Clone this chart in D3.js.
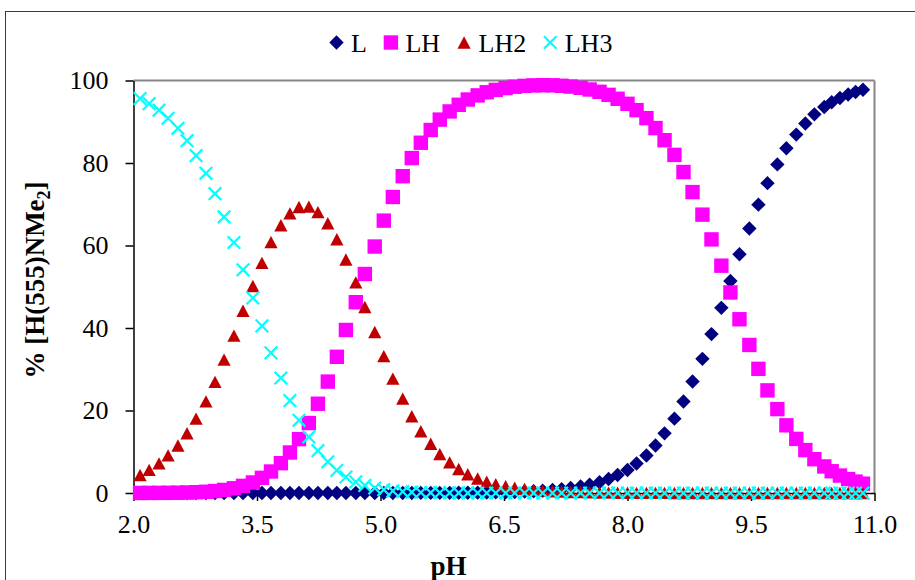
<!DOCTYPE html>
<html>
<head>
<meta charset="utf-8">
<script src="https://cdn.jsdelivr.net/npm/d3@7"></script>
<style>
  html, body { margin: 0; padding: 0; background: #fff; }
  svg { display: block; }
</style>
</head>
<body>
<svg id="chart" width="915" height="580"></svg>
<script>
// ---------- data ----------
const pH = [2.08, 2.19, 2.31, 2.42, 2.54, 2.65, 2.76, 2.88, 2.99, 3.10, 3.22, 3.33, 3.45, 3.56, 3.67, 3.79, 3.90, 4.01, 4.13, 4.24,
  4.36, 4.47, 4.58, 4.70, 4.81, 4.93, 5.04, 5.15, 5.27, 5.38, 5.49, 5.61, 5.72, 5.84, 5.95, 6.06, 6.18, 6.29, 6.40, 6.52,
  6.63, 6.75, 6.86, 6.97, 7.09, 7.20, 7.31, 7.43, 7.54, 7.66, 7.77, 7.88, 8.00, 8.11, 8.23, 8.34, 8.45, 8.57, 8.68, 8.79,
  8.91, 9.02, 9.14, 9.25, 9.36, 9.48, 9.59, 9.70, 9.82, 9.93, 10.05, 10.16, 10.27, 10.39, 10.48, 10.58, 10.68, 10.77, 10.86];

const L = [0, 0, 0, 0, 0, 0, 0, 0, 0, 0, 0, 0, 0, 0, 0, 0, 0, 0, 0, 0,
  0, 0, 0, 0, 0, 0, 0.01, 0.01, 0.01, 0.01, 0.02, 0.02, 0.03, 0.04, 0.05, 0.07, 0.09, 0.11, 0.15, 0.19,
  0.25, 0.33, 0.43, 0.55, 0.72, 0.93, 1.21, 1.57, 2.03, 2.62, 3.39, 4.36, 5.59, 7.14, 9.09, 11.51, 14.46, 18.02, 22.18, 27.04,
  32.52, 38.52, 44.89, 51.38, 57.88, 64.11, 69.90, 75.12, 79.66, 83.59, 86.88, 89.59, 91.80, 93.56, 94.73, 95.77, 96.61, 97.23, 97.74];

const LH = [0.01, 0.02, 0.03, 0.04, 0.07, 0.12, 0.19, 0.30, 0.48, 0.75, 1.15, 1.73, 2.55, 3.68, 5.21, 7.23, 9.82, 13.06, 16.96, 21.64,
  27.01, 33.02, 39.52, 46.25, 53.09, 59.75, 66.03, 71.76, 76.80, 81.20, 84.91, 88.00, 90.52, 92.50, 94.11, 95.39, 96.39, 97.15, 97.73, 98.17,
  98.49, 98.70, 98.82, 98.87, 98.84, 98.72, 98.53, 98.23, 97.82, 97.26, 96.52, 95.57, 94.35, 92.82, 90.88, 88.47, 85.53, 81.97, 77.81, 72.95,
  67.48, 61.48, 55.11, 48.62, 42.12, 35.89, 30.10, 24.88, 20.34, 16.41, 13.12, 10.41, 8.20, 6.44, 5.27, 4.23, 3.39, 2.77, 2.26];

const LH2 = [4.37, 5.61, 7.17, 9.11, 11.52, 14.47, 18.02, 22.20, 26.95, 32.33, 38.14, 44.18, 50.18, 55.80, 60.82, 64.90, 67.78, 69.32, 69.43, 68.10,
  65.41, 61.50, 56.60, 51.05, 45.08, 39.03, 33.17, 27.73, 22.87, 18.60, 14.96, 11.93, 9.43, 7.43, 5.82, 4.53, 3.52, 2.73, 2.12, 1.64,
  1.26, 0.97, 0.75, 0.58, 0.44, 0.34, 0.26, 0.20, 0.15, 0.12, 0.09, 0.07, 0.05, 0.04, 0.03, 0.02, 0.02, 0.01, 0, 0,
  0, 0, 0, 0, 0, 0, 0, 0, 0, 0, 0, 0, 0, 0, 0, 0, 0, 0, 0];

const LH3 = [95.62, 94.38, 92.81, 90.85, 88.41, 85.41, 81.79, 77.50, 72.56, 66.93, 60.72, 54.10, 47.27, 40.52, 33.97, 27.87, 22.39, 17.62, 13.60, 10.26,
  7.58, 5.48, 3.88, 2.70, 1.83, 1.22, 0.80, 0.51, 0.33, 0.20, 0.13, 0.08, 0.05, 0.03, 0.02, 0.01, 0, 0, 0, 0,
  0, 0, 0, 0, 0, 0, 0, 0, 0, 0, 0, 0, 0, 0, 0, 0, 0, 0, 0, 0,
  0, 0, 0, 0, 0, 0, 0, 0, 0, 0, 0, 0, 0, 0, 0, 0, 0, 0, 0];

const seriesNames = ["L", "LH", "LH2", "LH3"];
const xTicks = [2.0, 3.5, 5.0, 6.5, 8.0, 9.5, 11.0];
const yTicks = [0, 20, 40, 60, 80, 100];
const xTitle = "pH";

// ---------- styles ----------
const FONT = "'Liberation Serif', 'Times New Roman', serif";
const colors = { L: "#000080", LH: "#FF00FF", LH2: "#C00000", LH3: "#00FFFF" };
const valuesOf = { L: L, LH: LH, LH2: LH2, LH3: LH3 };

const svg = d3.select("#chart");
svg.append("rect").attr("x", 0).attr("y", 0).attr("width", 915).attr("height", 580).attr("fill", "#fff");

// outer chart border
svg.append("rect").attr("x", 5.5).attr("y", 11.5).attr("width", 960).attr("height", 620)
  .attr("fill", "none").attr("stroke", "#3a3a3a").attr("stroke-width", 1);

const x = d3.scaleLinear().domain([2, 11]).range([133.5, 874.5]);
const y = d3.scaleLinear().domain([0, 100]).range([493, 80.5]);

// top gridline / plot border (gray)
svg.append("line").attr("x1", x(2)).attr("x2", x(11)).attr("y1", y(100)).attr("y2", y(100))
  .attr("stroke", "#868686").attr("stroke-width", 2);
svg.append("line").attr("x1", x(11)).attr("x2", x(11)).attr("y1", y(100)).attr("y2", y(0))
  .attr("stroke", "#868686").attr("stroke-width", 2);

// axes
const xAxis = d3.axisBottom(x).tickValues(xTicks).tickFormat(d3.format(".1f")).tickSizeInner(8).tickSizeOuter(0).tickPadding(14);
const yAxis = d3.axisLeft(y).tickValues(yTicks).tickFormat(d3.format("d")).tickSizeInner(8).tickSizeOuter(0).tickPadding(17);

const gx = svg.append("g").attr("transform", `translate(0,${y(0)})`).call(xAxis);
const gy = svg.append("g").attr("transform", `translate(${x(2)},0)`).call(yAxis);
[gx, gy].forEach(g => {
  g.select(".domain").attr("stroke", "#000").attr("stroke-width", 1.5);
  g.selectAll(".tick line").attr("stroke", "#000").attr("stroke-width", 1.5);
  g.selectAll(".tick text").attr("fill", "#000").style("font-family", FONT).style("font-size", "26px");
});

// markers
function markerPath(name) {
  if (name === "L") { const r = 7.2; return `M0,${-r}L${r},0L0,${r}L${-r},0Z`; }
  if (name === "LH") { const s = 7.2; return `M${-s},${-s}H${s}V${s}H${-s}Z`; }
  if (name === "LH2") { const w = 6.6, h = 6.2; return `M0,${-h}L${w},${h}L${-w},${h}Z`; }
  const c = 6.3; return `M${-c},${-c}L${c},${c}M${-c},${c}L${c},${-c}`;
}
function drawMarker(g, name) {
  const p = g.append("path").attr("d", markerPath(name));
  if (name === "LH3") p.attr("fill", "none").attr("stroke", colors[name]).attr("stroke-width", 2.2);
  else p.attr("fill", colors[name]);
}

const plot = svg.append("g");
seriesNames.forEach(name => {
  const vals = valuesOf[name];
  const g = plot.append("g");
  pH.forEach((p, i) => {
    const m = g.append("g").attr("transform", `translate(${x(p)},${y(vals[i])})`);
    drawMarker(m, name);
  });
});

// legend
const legend = svg.append("g");
let cx = 336.5;
const ly = 42.5;
seriesNames.forEach(name => {
  const m = legend.append("g").attr("transform", `translate(${cx},${ly})`);
  drawMarker(m, name);
  const t = legend.append("text").attr("x", cx + 14.5).attr("y", 52)
    .style("font-family", FONT).style("font-size", "26px").attr("fill", "#000").text(name);
  cx = cx + 14.5 + t.node().getComputedTextLength() + 24;
});

// axis titles
svg.append("text").attr("x", 448.5).attr("y", 575).attr("text-anchor", "middle")
  .style("font-family", FONT).style("font-size", "27px").style("font-weight", "bold").attr("fill", "#000").text(xTitle);

const yt = svg.append("text").attr("transform", "translate(43.5,280) rotate(-90)").attr("text-anchor", "middle")
  .style("font-family", FONT).style("font-size", "27px").style("font-weight", "bold").attr("fill", "#000");
yt.append("tspan").text("% [H(555)NMe");
yt.append("tspan").attr("dy", 6).style("font-size", "18px").text("2");
yt.append("tspan").attr("dy", -6).text("]");
</script>
</body>
</html>
